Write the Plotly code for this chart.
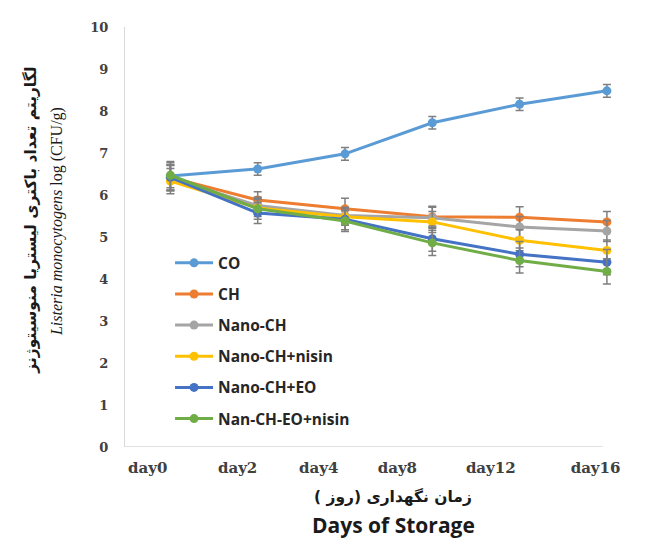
import plotly.graph_objects as go

days = ["day0", "day2", "day4", "day8", "day12", "day16"]
x_pos = [0, 1, 2, 3, 4, 5]
tick_pos = [-0.26, 0.77, 1.70, 2.60, 3.67, 4.87]

series_names = ["CO", "CH", "Nano-CH", "Nano-CH+nisin", "Nano-CH+EO", "Nan-CH-EO+nisin"]
co = [6.45, 6.62, 6.98, 7.72, 8.16, 8.48]
ch = [6.42, 5.88, 5.67, 5.48, 5.47, 5.36]
nano_ch = [6.40, 5.75, 5.51, 5.46, 5.24, 5.14]
nano_ch_nisin = [6.33, 5.69, 5.48, 5.36, 4.92, 4.68]
nano_ch_eo = [6.42, 5.57, 5.42, 4.96, 4.59, 4.40]
nan_ch_eo_nisin = [6.47, 5.67, 5.38, 4.86, 4.44, 4.18]

err_co = [0.35, 0.15, 0.15, 0.15, 0.15, 0.15]
err_ch = [0.30, 0.20, 0.25, 0.25, 0.25, 0.25]
err_nano_ch = [0.30, 0.20, 0.20, 0.25, 0.25, 0.25]
err_nano_ch_nisin = [0.30, 0.20, 0.20, 0.25, 0.25, 0.25]
err_nano_ch_eo = [0.30, 0.25, 0.25, 0.30, 0.30, 0.30]
err_nan_ch_eo_nisin = [0.30, 0.25, 0.25, 0.30, 0.30, 0.30]

colors = ["#5B9BD5", "#ED7D31", "#A5A5A5", "#FFC000", "#4472C4", "#70AD47"]
values = [co, ch, nano_ch, nano_ch_nisin, nano_ch_eo, nan_ch_eo_nisin]
errors = [err_co, err_ch, err_nano_ch, err_nano_ch_nisin, err_nano_ch_eo, err_nan_ch_eo_nisin]

fig = go.Figure()
for name, vals, errs, col in zip(series_names, values, errors, colors):
    fig.add_trace(go.Scatter(
        x=x_pos, y=vals, name=name, mode="lines+markers",
        line=dict(color=col, width=3),
        marker=dict(color=col, size=9),
        error_y=dict(type="data", array=errs, visible=True,
                     color="#7f7f7f", thickness=1.5, width=4),
        legendgroup=name,
    ))

# page has an 8px body margin, so the figure is drawn 8px smaller
fig.update_layout(
    width=654, height=534,
    margin=dict(l=117, r=42, t=12, b=95),
    paper_bgcolor="white", plot_bgcolor="white",
    showlegend=True,
    legend=dict(
        x=0.091, y=0.478, xanchor="left", yanchor="top",
        bgcolor="rgba(0,0,0,0)",
        font=dict(family="Open Sans", size=15.5, color="#262626", weight="bold"),
        itemwidth=38, tracegroupgap=8,
    ),
    xaxis=dict(
        range=[-0.52, 5.15], tickvals=tick_pos, ticktext=days,
        showgrid=False, zeroline=False, showline=False,
        ticks="", ticklabelstandoff=10,
        tickfont=dict(family="DejaVu Serif", size=15, color="#404040", weight="bold"),
    ),
    yaxis=dict(
        range=[0, 10], dtick=1, showgrid=False, zeroline=False,
        showline=True, linecolor="#d9d9d9", linewidth=1,
        ticks="", ticklabelstandoff=13,
        tickfont=dict(family="DejaVu Serif", size=13, color="#404040", weight="bold"),
    ),
    shapes=[dict(type="line", xref="x", yref="y", x0=-0.52, x1=4.95, y0=0, y1=0,
                 line=dict(color="#d9d9d9", width=1.5))],
    annotations=[
        dict(text="لگاریتم تعداد باکتری لیستریا منوسیتوژنز", textangle=-90,
             xref="paper", yref="paper", x=-0.19, y=0.541, xanchor="center", yanchor="middle",
             showarrow=False,
             font=dict(family="DejaVu Sans", size=15.5, color="#1a1a1a", weight="bold")),
        dict(text="<i>Listeria monocytogens</i> log (CFU/g)", textangle=-90,
             xref="paper", yref="paper", x=-0.137, y=0.536, xanchor="center", yanchor="middle",
             showarrow=False, font=dict(family="Liberation Serif", size=16, color="#1a1a1a")),
        dict(text="زمان نگهداری (روز )", xref="paper", yref="paper",
             x=0.542, y=-0.118, xanchor="center", yanchor="middle", showarrow=False,
             font=dict(family="DejaVu Sans", size=15.5, color="#1a1a1a", weight="bold")),
        dict(text="Days of Storage", xref="paper", yref="paper",
             x=0.542, y=-0.185, xanchor="center", yanchor="middle", showarrow=False,
             font=dict(family="Open Sans", size=21, color="#1a1a1a", weight="bold")),
    ],
)

fig.write_html("out.html")
